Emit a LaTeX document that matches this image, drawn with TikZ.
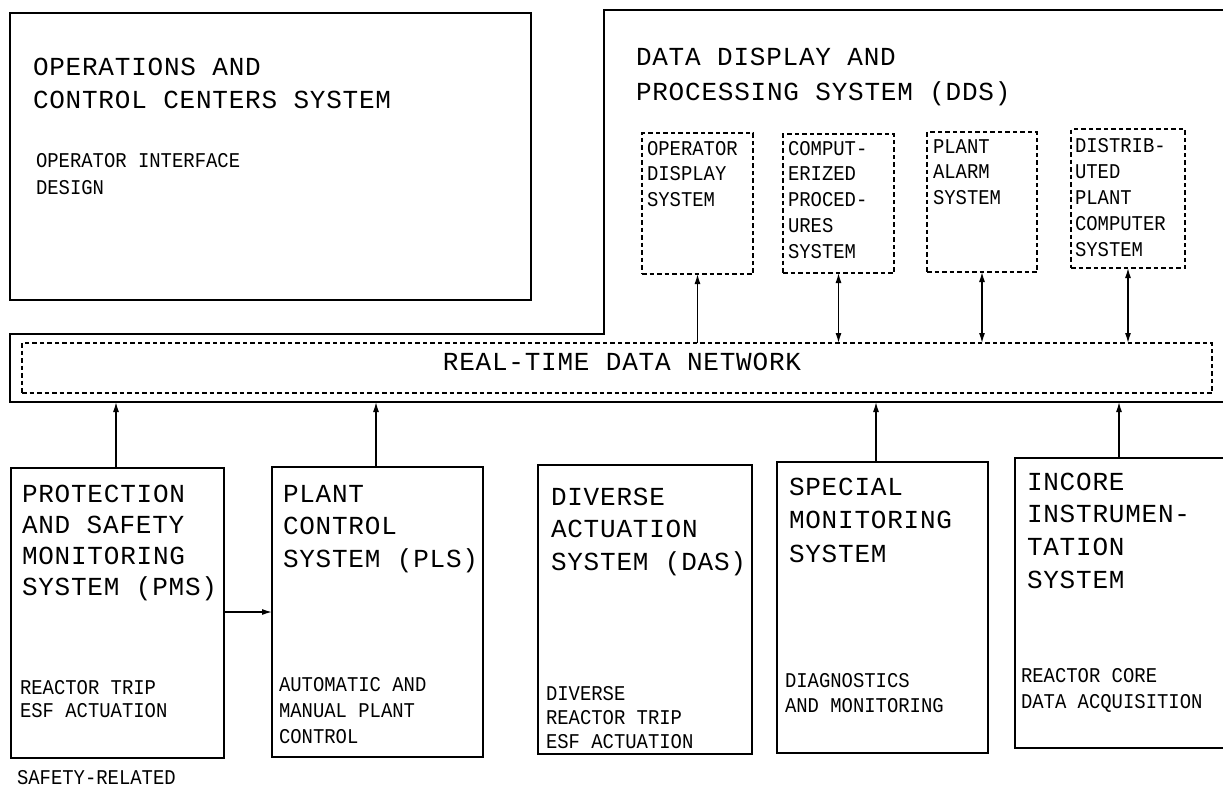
\documentclass[tikz,border=0pt]{standalone}
\usepackage{fontspec}
\usetikzlibrary{arrows.meta}
\newfontfamily\plotbig[LetterSpace=3]{Liberation Mono}
\newfontfamily\plotsmall[FakeStretch=0.9]{Liberation Mono}
\newcommand{\FontBig}{\plotbig\fontsize{26pt}{30pt}\selectfont}
\newcommand{\FontSmall}{\plotsmall\fontsize{21pt}{24pt}\selectfont}
\newcommand{\mlines}[2]{\vtop{\baselineskip=#1\relax\lineskiplimit=-20pt\lineskip=0pt #2}}
\newcommand{\rw}[1]{\hbox{#1}}
\tikzset{
  sysbox/.style={draw, line width=1.5pt, inner sep=0pt, outer sep=0pt, anchor=north west},
  dbox/.style={draw, line width=1.3pt, dash pattern=on 4.5pt off 3pt, inner sep=0pt, outer sep=0pt, anchor=north west},
  ghost/.style={draw=none, inner sep=0pt, outer sep=0pt, anchor=north west},
  txt/.style={anchor=base west, inner sep=0pt, outer sep=0pt},
  arr/.style={line width=1.3pt, -{Latex[length=10pt,width=6pt]}},
  darr/.style={line width=1.3pt, {Latex[length=10pt,width=6pt]}-{Latex[length=10pt,width=6pt]}},
}
\begin{document}
\begin{tikzpicture}[x=1pt,y=-1pt]
\useasboundingbox (0,0) rectangle (1223,787);
% operations box
\node[sysbox, minimum width=521pt, minimum height=287pt] (ops) at (10,13) {};
\node[txt] (opstitle) at (33,75) {\FontBig\mlines{33pt}{\rw{OPERATIONS AND}\rw{CONTROL CENTERS SYSTEM}}};
\node[txt] (opssub) at (36,167) {\FontSmall\mlines{27pt}{\rw{OPERATOR INTERFACE}\rw{DESIGN}}};
% DDS + network outline
\node[ghost, minimum width=636pt, minimum height=324pt] (dds) at (604,10) {};
\node[ghost, minimum width=1230pt, minimum height=68pt] (netout) at (10,334) {};
\draw[line width=1.5pt] (dds.north east) -- (dds.north west) -- (dds.south west) -- (netout.north west) -- (netout.south west) -- (netout.south east);
\node[txt] (ddstitle) at (636,65) {\FontBig\mlines{35pt}{\rw{DATA DISPLAY AND}\rw{PROCESSING SYSTEM (DDS)}}};
% DDS sub-boxes
\node[dbox, minimum width=111pt, minimum height=141pt] (ods) at (642,133) {};
\node[dbox, minimum width=111pt, minimum height=139pt] (cps) at (783,134) {};
\node[dbox, minimum width=110pt, minimum height=140pt] (pas) at (927,132) {};
\node[dbox, minimum width=114pt, minimum height=139pt] (dpc) at (1071,129) {};
\node[txt] (odst) at (647,155) {\FontSmall\mlines{25.5pt}{\rw{OPERATOR}\rw{DISPLAY}\rw{SYSTEM}}};
\node[txt] (cpst) at (788,155) {\FontSmall\mlines{25.8pt}{\rw{COMPUT-}\rw{ERIZED}\rw{PROCED-}\rw{URES}\rw{SYSTEM}}};
\node[txt] (past) at (933,153) {\FontSmall\mlines{25.5pt}{\rw{PLANT}\rw{ALARM}\rw{SYSTEM}}};
\node[txt] (dpct) at (1075,152) {\FontSmall\mlines{26.2pt}{\rw{DISTRIB-}\rw{UTED}\rw{PLANT}\rw{COMPUTER}\rw{SYSTEM}}};
% network
\node[dbox, minimum width=1190pt, minimum height=50pt] (net) at (22,343) {};
\node[anchor=base, inner sep=0pt] (nettext) at (622,370) {\FontBig REAL-TIME DATA NETWORK};
% arrows network -> DDS
\draw[arr] (ods.south |- net.north) -- (ods.south);
\draw[darr] (cps.south |- net.north) -- (cps.south);
\draw[darr] (pas.south |- net.north) -- (pas.south);
\draw[darr] (dpc.south |- net.north) -- (dpc.south);
% bottom boxes
\node[sysbox, minimum width=213pt, minimum height=290pt] (pms) at (11,468) {};
\node[sysbox, minimum width=211pt, minimum height=290pt] (pls) at (272,467) {};
\node[sysbox, minimum width=214pt, minimum height=289pt] (das) at (538,465) {};
\node[sysbox, minimum width=211pt, minimum height=291pt] (sms) at (777,462) {};
\node[sysbox, minimum width=230pt, minimum height=290pt] (ics) at (1015,458) {};
\node[txt] (pmst) at (22,502) {\FontBig\mlines{31pt}{\rw{PROTECTION}\rw{AND SAFETY}\rw{MONITORING}\rw{SYSTEM (PMS)}}};
\node[txt] (plst) at (283,502) {\FontBig\mlines{32.5pt}{\rw{PLANT}\rw{CONTROL}\rw{SYSTEM (PLS)}}};
\node[txt] (dast) at (551,505) {\FontBig\mlines{32.5pt}{\rw{DIVERSE}\rw{ACTUATION}\rw{SYSTEM (DAS)}}};
\node[txt] (smst) at (789,495) {\FontBig\mlines{33.5pt}{\rw{SPECIAL}\rw{MONITORING}\rw{SYSTEM}}};
\node[txt] (icst) at (1027,490) {\FontBig\mlines{32.7pt}{\rw{INCORE}\rw{INSTRUMEN-}\rw{TATION}\rw{SYSTEM}}};
\node[txt] (pmss) at (20,694) {\FontSmall\mlines{23.5pt}{\rw{REACTOR TRIP}\rw{ESF ACTUATION}}};
\node[txt] (plss) at (279,691) {\FontSmall\mlines{26pt}{\rw{AUTOMATIC AND}\rw{MANUAL PLANT}\rw{CONTROL}}};
\node[txt] (dass) at (546,700) {\FontSmall\mlines{24pt}{\rw{DIVERSE}\rw{REACTOR TRIP}\rw{ESF ACTUATION}}};
\node[txt] (smss) at (785,687) {\FontSmall\mlines{25pt}{\rw{DIAGNOSTICS}\rw{AND MONITORING}}};
\node[txt] (icss) at (1021,682) {\FontSmall\mlines{26pt}{\rw{REACTOR CORE}\rw{DATA ACQUISITION}}};
\node[txt] (safety) at (17,784) {\FontSmall SAFETY-RELATED};
% arrows bottom -> network
\draw[arr] ([xshift=-1.5pt]pms.north) -- ([xshift=-1.5pt]pms.north |- netout.south);
\draw[arr] ([xshift=-1.5pt]pls.north) -- ([xshift=-1.5pt]pls.north |- netout.south);
\draw[arr] ([xshift=-6.5pt]sms.north) -- ([xshift=-6.5pt]sms.north |- netout.south);
\draw[arr] ([xshift=-11pt]ics.north) -- ([xshift=-11pt]ics.north |- netout.south);
\draw[arr] (pms.east |- 0,612) -- (pls.west |- 0,612);
\end{tikzpicture}
\end{document}
